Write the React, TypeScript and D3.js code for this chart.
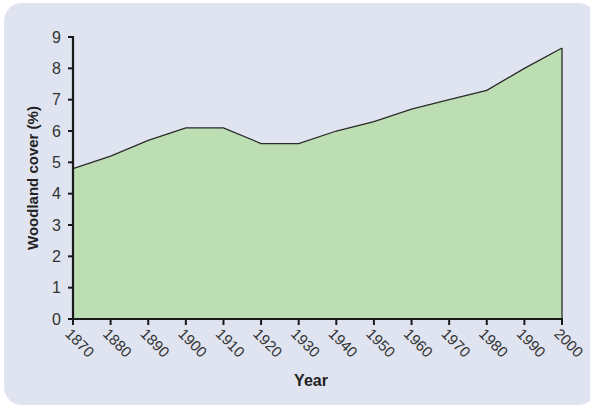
import * as d3 from "d3";
import React from "react";

const years = [1870, 1880, 1890, 1900, 1910, 1920, 1930, 1940, 1950, 1960, 1970, 1980, 1990, 2000];
const cover = [4.8, 5.2, 5.7, 6.1, 6.1, 5.6, 5.6, 6.0, 6.3, 6.7, 7.0, 7.3, 8.0, 8.65];
const yTicks = [0, 1, 2, 3, 4, 5, 6, 7, 8, 9];

const W = 590;
const H = 407;
const margin = { left: 73, right: 28, top: 37, bottom: 88 };

export default function App() {
  const x = d3.scaleLinear().domain([1870, 2000]).range([margin.left, W - margin.right]);
  const y = d3.scaleLinear().domain([0, 9]).range([H - margin.bottom, margin.top]);

  const pts = years.map((yr, i) => ({ yr, v: cover[i] }));
  const area = d3
    .area<{ yr: number; v: number }>()
    .x((d) => x(d.yr))
    .y0(y(0))
    .y1((d) => y(d.v));
  const line = d3
    .line<{ yr: number; v: number }>()
    .x((d) => x(d.yr))
    .y((d) => y(d.v));
  const last = pts[pts.length - 1];

  const font = "Liberation Sans, Arial, sans-serif";

  return (
    <svg
      width={W}
      height={H}
      style={{ position: "absolute", left: 0, top: 0 }}
      fontFamily={font}
    >
      <rect x={0} y={0} width={W} height={H} fill="#ffffff" />
      <rect x={4} y={3} width={592} height={402} rx={18} fill="#dfe4f0" />

      <path d={area(pts) ?? ""} fill="#bddeb3" />
      <path d={line(pts) ?? ""} fill="none" stroke="#2a2a2a" strokeWidth={1.3} />
      <line
        x1={x(last.yr)}
        x2={x(last.yr)}
        y1={y(last.v)}
        y2={y(0)}
        stroke="#2a2a2a"
        strokeWidth={1.3}
      />

      {/* y axis */}
      <line x1={margin.left} x2={margin.left} y1={y(9) - 1} y2={y(0) + 1} stroke="#1a1a1a" strokeWidth={2.2} />
      {yTicks.map((t) => (
        <g key={t}>
          <line x1={margin.left - 5} x2={margin.left} y1={y(t)} y2={y(t)} stroke="#1a1a1a" strokeWidth={2} />
          <text x={margin.left - 12} y={y(t)} dy="0.36em" textAnchor="end" fontSize={16} fill="#333">
            {t}
          </text>
        </g>
      ))}

      {/* x axis */}
      <line x1={margin.left - 1} x2={x(2000) + 1} y1={y(0)} y2={y(0)} stroke="#1a1a1a" strokeWidth={2.2} />
      {years.map((yr) => (
        <g key={yr}>
          <line x1={x(yr)} x2={x(yr)} y1={y(0)} y2={y(0) + 6} stroke="#1a1a1a" strokeWidth={2} />
          <text
            transform={`translate(${x(yr) - 5},${y(0) + 12}) rotate(45)`}
            fontSize={15}
            fill="#333"
            dy="0.35em"
          >
            {yr}
          </text>
        </g>
      ))}

      <text
        transform={`translate(38,${(y(0) + y(9)) / 2}) rotate(-90)`}
        textAnchor="middle"
        fontSize={15}
        fontWeight="bold"
        fill="#222"
      >
        Woodland cover (%)
      </text>
      <text x={311} y={386} textAnchor="middle" fontSize={16} fontWeight="bold" fill="#222">
        Year
      </text>
    </svg>
  );
}
